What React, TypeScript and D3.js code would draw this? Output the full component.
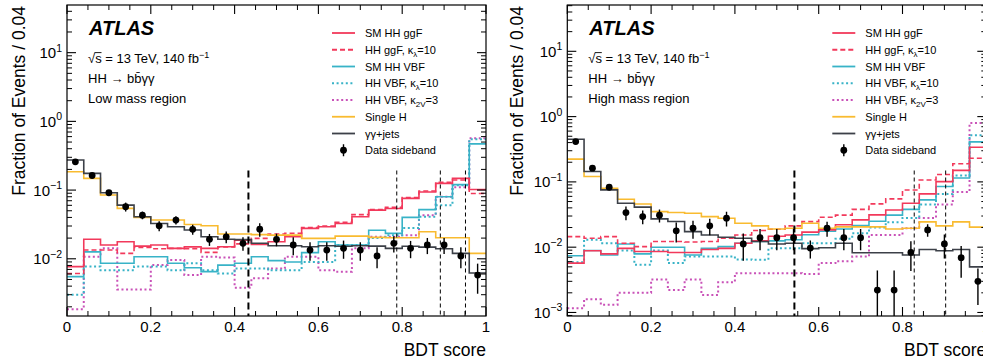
import React from 'react';
import * as d3 from 'd3';

// ---------- categories / tick labels ----------
const binEdges = d3.range(26).map((i) => i * 0.04);
const xTickValues = [0, 0.2, 0.4, 0.6, 0.8, 1];
const xTickLabels = ['0', '0.2', '0.4', '0.6', '0.8', '1'];
const lowYTickExps = [1, 0, -1, -2];
const highYTickExps = [1, 0, -1, -2, -3];

// ---------- Low mass region ----------
const lowSMggF = [0.0077, 0.0192, 0.0159, 0.0177, 0.0153, 0.0159, 0.0142, 0.0149, 0.0142, 0.0150, 0.0187, 0.0162, 0.0177, 0.0209, 0.0277, 0.0292, 0.0327, 0.0409, 0.0511, 0.054, 0.0757, 0.094, 0.125, 0.148, 0.102];
const lowKLggF = [0.0061, 0.0134, 0.0134, 0.0120, 0.0146, 0.0140, 0.0142, 0.0140, 0.0124, 0.0149, 0.0165, 0.0198, 0.0229, 0.0235, 0.0285, 0.030, 0.034, 0.044, 0.052, 0.056, 0.078, 0.097, 0.130, 0.140, 0.089];
const lowSMVBF = [0.0055, 0.0126, 0.0086, 0.0086, 0.0107, 0.0107, 0.0086, 0.0074, 0.0065, 0.0081, 0.0086, 0.0107, 0.0094, 0.0090, 0.0123, 0.0177, 0.0159, 0.0159, 0.026, 0.0234, 0.040, 0.052, 0.080, 0.120, 0.47];
const lowKLVBF = [0.0030, 0.0077, 0.0068, 0.0068, 0.0077, 0.0077, 0.0068, 0.0086, 0.0068, 0.0061, 0.0072, 0.0072, 0.0068, 0.0068, 0.0090, 0.0090, 0.0159, 0.0159, 0.020, 0.022, 0.028, 0.041, 0.060, 0.118, 0.55];
const lowK2V = [0.00185, 0.0107, 0.0142, 0.00358, 0.00358, 0.0081, 0.0096, 0.0058, 0.0107, 0.0104, 0.0038, 0.0052, 0.0072, 0.0107, 0.0107, 0.0068, 0.0065, 0.0142, 0.0209, 0.0209, 0.022, 0.043, 0.080, 0.110, 0.57];
const lowSingleH = [0.185, 0.148, 0.0846, 0.0542, 0.040, 0.0366, 0.0366, 0.0316, 0.0302, 0.0229, 0.0229, 0.0225, 0.0221, 0.0221, 0.0198, 0.0198, 0.0214, 0.0214, 0.0205, 0.0202, 0.0202, 0.0247, 0.0202, 0.0202, 0.0120];
const lowGamma = [0.274, 0.175, 0.0913, 0.0605, 0.0409, 0.0327, 0.0292, 0.0262, 0.0209, 0.0192, 0.0190, 0.0168, 0.0155, 0.0155, 0.0150, 0.0155, 0.0152, 0.0155, 0.0153, 0.0142, 0.0152, 0.0148, 0.0140, 0.0120, 0.0062];
const lowData = [0.258, 0.163, 0.0915, 0.0572, 0.0431, 0.0302, 0.0366, 0.0268, 0.0192, 0.0209, 0.0168, 0.027, 0.0192, 0.0159, 0.0134, 0.0134, 0.0142, 0.0134, 0.0110, 0.0168, 0.0142, 0.0159, 0.0159, 0.0110, 0.0058];
const lowDataErr = [0.01, 0.008, 0.006, 0.0085, 0.0055, 0.005, 0.005, 0.0045, 0.0038, 0.004, 0.0037, 0.006, 0.004, 0.0046, 0.004, 0.004, 0.0042, 0.004, 0.0037, 0.0045, 0.004, 0.0042, 0.0042, 0.0037, 0.0027];
const lowCuts = [0.787, 0.891, 0.951];
const lowMainCut = 0.433;

// ---------- High mass region ----------
const highSMggF = [0.0057, 0.0088, 0.0079, 0.0096, 0.0086, 0.0086, 0.0083, 0.0083, 0.0092, 0.0096, 0.0115, 0.0125, 0.0147, 0.0154, 0.0170, 0.0184, 0.0221, 0.0262, 0.0312, 0.0372, 0.0472, 0.0655, 0.101, 0.150, 0.340];
const highKLggF = [0.0145, 0.0137, 0.0145, 0.0115, 0.0102, 0.0122, 0.0122, 0.0120, 0.0122, 0.0137, 0.0154, 0.0180, 0.0188, 0.0212, 0.0246, 0.0288, 0.031, 0.038, 0.046, 0.055, 0.075, 0.107, 0.130, 0.190, 0.230];
const highSMVBF = [0.0074, 0.0089, 0.0076, 0.0112, 0.0079, 0.0100, 0.0100, 0.0076, 0.0096, 0.0102, 0.0115, 0.0122, 0.0125, 0.0130, 0.0155, 0.0175, 0.0190, 0.0215, 0.025, 0.031, 0.038, 0.053, 0.085, 0.115, 0.41];
const highKLVBF = [0.0059, 0.0130, 0.0115, 0.0089, 0.0054, 0.0089, 0.0057, 0.0072, 0.0072, 0.0072, 0.0065, 0.0064, 0.0096, 0.0096, 0.0115, 0.0115, 0.0135, 0.0163, 0.020, 0.024, 0.028, 0.045, 0.065, 0.125, 0.52];
const highK2V = [0.00116, 0.0016, 0.00131, 0.0020, 0.0020, 0.0032, 0.0022, 0.0032, 0.00186, 0.0029, 0.0040, 0.0040, 0.0040, 0.0040, 0.0039, 0.0057, 0.0061, 0.0072, 0.0154, 0.0154, 0.0195, 0.028, 0.045, 0.070, 0.80];
const highSingleH = [0.223, 0.121, 0.080, 0.0543, 0.0459, 0.0351, 0.0339, 0.0331, 0.0294, 0.0278, 0.0233, 0.0212, 0.0190, 0.0195, 0.0233, 0.0195, 0.0205, 0.0205, 0.0205, 0.0190, 0.0195, 0.0244, 0.0212, 0.0244, 0.0203];
const highGamma = [0.451, 0.144, 0.0754, 0.0471, 0.0410, 0.0271, 0.0247, 0.0173, 0.0154, 0.0142, 0.0137, 0.0122, 0.0112, 0.0115, 0.0095, 0.0098, 0.0115, 0.0082, 0.0082, 0.0082, 0.0076, 0.0092, 0.0088, 0.0092, 0.0050];
const highData = [0.414, 0.162, 0.083, 0.0339, 0.0294, 0.0309, 0.0178, 0.0195, 0.0212, 0.0278, 0.0112, 0.014, 0.014, 0.014, 0.0097, 0.0195, 0.014, 0.014, 0.0022, 0.0022, 0.0083, 0.0184, 0.0112, 0.0069, 0.0030];
const highDataErr = [0.03, 0.015, 0.009, 0.008, 0.007, 0.007, 0.006, 0.006, 0.006, 0.007, 0.005, 0.005, 0.005, 0.005, 0.003, 0.005, 0.005, 0.005, 0.0022, 0.0022, 0.004, 0.004, 0.0045, 0.0035, 0.0017];
const highCuts = [0.828, 0.903];
const highMainCut = 0.542;

// ---------- styles ----------
const FONT = '"Liberation Sans", Arial, Helvetica, sans-serif';
const C_GGF = '#f2395b';
const C_VBF = '#38b3c7';
const C_K2V = '#c952b8';
const C_SH = '#f9bb30';
const C_GG = '#3c4048';

type Hist = { values: number[]; color: string; dash?: string; width: number };

function stepPath(values: number[], x: any, y: any, ymin: number) {
  const pts: [number, number][] = values.map((v, i) => [binEdges[i], Math.max(v, ymin)]);
  pts.push([binEdges[25], Math.max(values[values.length - 1], ymin)]);
  return d3
    .line<[number, number]>()
    .x((d) => x(d[0]))
    .y((d) => y(d[1]))
    .curve(d3.curveStepAfter)(pts) as string;
}

const legendItems = [
  { kind: 'line', color: C_GGF, dash: undefined, label: <tspan>SM HH ggF</tspan> },
  {
    kind: 'line', color: C_GGF, dash: '5,3',
    label: (<><tspan>HH ggF, κ</tspan><tspan fontSize={8} dy={3}>λ</tspan><tspan dy={-3}>=10</tspan></>),
  },
  { kind: 'line', color: C_VBF, dash: undefined, label: <tspan>SM HH VBF</tspan> },
  {
    kind: 'dot', color: C_VBF, dash: '2,2.6',
    label: (<><tspan>HH VBF, κ</tspan><tspan fontSize={8} dy={3}>λ</tspan><tspan dy={-3}>=10</tspan></>),
  },
  {
    kind: 'dot', color: C_K2V, dash: '2,2.6',
    label: (<><tspan>HH VBF, κ</tspan><tspan fontSize={8} dy={3}>2V</tspan><tspan dy={-3}>=3</tspan></>),
  },
  { kind: 'line', color: C_SH, dash: undefined, label: <tspan>Single H</tspan> },
  { kind: 'line', color: C_GG, dash: undefined, label: <tspan>γγ+jets</tspan> },
  { kind: 'data', color: '#000', dash: undefined, label: <tspan>Data sideband</tspan> },
];

type PanelProps = {
  id: string;
  left: number;
  yDomain: [number, number];
  yTickExps: number[];
  region: string;
  hists: Hist[];
  data: number[];
  dataErr: number[];
  cuts: number[];
  mainCut: number;
  titleX: number;
};

function Panel(p: PanelProps) {
  const top = 5;
  const bottom = 316;
  const right = p.left + 419;
  const x = d3.scaleLinear().domain([0, 1]).range([p.left, right]);
  const y = d3.scaleLog().domain(p.yDomain).range([bottom, top]);
  const ymin = p.yDomain[0] * 0.5;

  const xMinor = d3.range(0, 1.0001, 0.05).filter((v) => Math.abs(v * 5 - Math.round(v * 5)) > 1e-6);
  const yMinor: number[] = [];
  for (let e = Math.floor(Math.log10(p.yDomain[0])); e <= Math.ceil(Math.log10(p.yDomain[1])); e++) {
    for (let m = 2; m <= 9; m++) {
      const v = m * Math.pow(10, e);
      if (v > p.yDomain[0] && v < p.yDomain[1]) yMinor.push(v);
    }
  }
  const cutTop = 170.5;
  const lx0 = p.left + 265;
  const lx1 = p.left + 288;
  const ltx = p.left + 298;
  const rowY = (i: number) => 33 + 16.75 * i;

  return (
    <g>
      <defs>
        <clipPath id={p.id}>
          <rect x={p.left} y={top} width={right - p.left} height={bottom - top} />
        </clipPath>
      </defs>
      <g clipPath={`url(#${p.id})`}>
        {p.hists.map((h, i) => (
          <path key={i} d={stepPath(h.values, x, y, ymin)} fill="none" stroke={h.color}
            strokeWidth={h.width} strokeDasharray={h.dash} />
        ))}
        <line x1={x(p.mainCut)} x2={x(p.mainCut)} y1={cutTop} y2={bottom} stroke="#000" strokeWidth={2} strokeDasharray="7,4" />
        {p.cuts.map((c, i) => (
          <line key={i} x1={x(c)} x2={x(c)} y1={cutTop} y2={bottom} stroke="#000" strokeWidth={1} strokeDasharray="4,3" />
        ))}
        {p.data.map((v, i) => {
          const cx = x((binEdges[i] + binEdges[i + 1]) / 2);
          const lo = Math.max(v - p.dataErr[i], ymin);
          const hi = v + p.dataErr[i];
          return (
            <g key={i}>
              <line x1={cx} x2={cx} y1={y(lo)} y2={y(hi)} stroke="#000" strokeWidth={1.4} />
              <circle cx={cx} cy={y(v)} r={3.4} fill="#000" />
            </g>
          );
        })}
      </g>
      {/* frame */}
      <rect x={p.left} y={top} width={right - p.left} height={bottom - top} fill="none" stroke="#000" strokeWidth={1.2} />
      {/* x ticks */}
      {xTickValues.map((v, i) => (
        <g key={'xt' + i}>
          <line x1={x(v)} x2={x(v)} y1={bottom} y2={bottom - 9} stroke="#000" strokeWidth={1.1} />
          <line x1={x(v)} x2={x(v)} y1={top} y2={top + 9} stroke="#000" strokeWidth={1.1} />
          <text x={x(v)} y={332} textAnchor="middle" fontSize={15}>{xTickLabels[i]}</text>
        </g>
      ))}
      {xMinor.map((v, i) => (
        <g key={'xm' + i}>
          <line x1={x(v)} x2={x(v)} y1={bottom} y2={bottom - 5} stroke="#000" strokeWidth={1} />
          <line x1={x(v)} x2={x(v)} y1={top} y2={top + 5} stroke="#000" strokeWidth={1} />
        </g>
      ))}
      {/* y ticks */}
      {p.yTickExps.map((e) => {
        const yy = y(Math.pow(10, e));
        return (
          <g key={'yt' + e}>
            <line x1={p.left} x2={p.left + 9} y1={yy} y2={yy} stroke="#000" strokeWidth={1.1} />
            <line x1={right} x2={right - 9} y1={yy} y2={yy} stroke="#000" strokeWidth={1.1} />
            <text x={p.left - 5} y={yy + 5.5} textAnchor="end" fontSize={15}>
              <tspan>10</tspan>
              <tspan fontSize={10.5} dy={-6.5}>{e < 0 ? '−' + String(-e) : String(e)}</tspan>
            </text>
          </g>
        );
      })}
      {yMinor.map((v, i) => (
        <g key={'ym' + i}>
          <line x1={p.left} x2={p.left + 5} y1={y(v)} y2={y(v)} stroke="#000" strokeWidth={1} />
          <line x1={right} x2={right - 5} y1={y(v)} y2={y(v)} stroke="#000" strokeWidth={1} />
        </g>
      ))}
      {/* axis titles */}
      <text transform={`translate(${p.titleX},6) rotate(-90)`} textAnchor="end" fontSize={17.5}>
        Fraction of Events / 0.04
      </text>
      <text x={right} y={356} textAnchor="end" fontSize={17.5}>BDT score</text>
      {/* ATLAS labels */}
      <text x={p.left + 22} y={35} fontSize={20} fontWeight="bold" fontStyle="italic">ATLAS</text>
      <text x={p.left + 21} y={63} fontSize={13}>
        <tspan>√s = 13 TeV, 140 fb</tspan>
        <tspan fontSize={9} dy={-5}>−1</tspan>
      </text>
      <line x1={p.left + 27.5} x2={p.left + 34.5} y1={52.6} y2={52.6} stroke="#000" strokeWidth={0.9} />
      <text x={p.left + 21} y={83} fontSize={13}>HH → bb̄γγ</text>
      <text x={p.left + 21} y={103} fontSize={13}>{p.region}</text>
      {/* legend */}
      {legendItems.map((it, i) => {
        const ry = rowY(i);
        return (
          <g key={'lg' + i}>
            {it.kind === 'data' ? (
              <g>
                <line x1={(lx0 + lx1) / 2} x2={(lx0 + lx1) / 2} y1={ry - 6} y2={ry + 6} stroke="#000" strokeWidth={1.4} />
                <circle cx={(lx0 + lx1) / 2} cy={ry} r={3.4} fill="#000" />
              </g>
            ) : (
              <line x1={lx0} x2={lx1} y1={ry} y2={ry} stroke={it.color}
                strokeWidth={it.kind === 'dot' ? 2 : 1.8} strokeDasharray={it.dash} />
            )}
            <text x={ltx} y={ry + 4.2} fontSize={11}>{it.label}</text>
          </g>
        );
      })}
    </g>
  );
}

export default function App() {
  const lowHists: Hist[] = [
    { values: lowK2V, color: C_K2V, dash: '2,2.6', width: 2 },
    { values: lowKLVBF, color: C_VBF, dash: '2,2.6', width: 2 },
    { values: lowSMVBF, color: C_VBF, width: 1.6 },
    { values: lowKLggF, color: C_GGF, dash: '5,3', width: 1.6 },
    { values: lowSMggF, color: C_GGF, width: 1.6 },
    { values: lowSingleH, color: C_SH, width: 1.6 },
    { values: lowGamma, color: C_GG, width: 1.6 },
  ];
  const highHists: Hist[] = [
    { values: highK2V, color: C_K2V, dash: '2,2.6', width: 2 },
    { values: highKLVBF, color: C_VBF, dash: '2,2.6', width: 2 },
    { values: highSMVBF, color: C_VBF, width: 1.6 },
    { values: highKLggF, color: C_GGF, dash: '5,3', width: 1.6 },
    { values: highSMggF, color: C_GGF, width: 1.6 },
    { values: highSingleH, color: C_SH, width: 1.6 },
    { values: highGamma, color: C_GG, width: 1.6 },
  ];
  return (
    <svg width={983} height={362} style={{ position: 'absolute', left: 0, top: 0, display: 'block' }} fontFamily={FONT}>
      <rect width={983} height={362} fill="#fff" />
      <Panel id="clipLow" left={67} yDomain={[1.47e-3, 49.4]} yTickExps={lowYTickExps} region="Low mass region"
        hists={lowHists} data={lowData} dataErr={lowDataErr} cuts={lowCuts} mainCut={lowMainCut} titleX={25} />
      <Panel id="clipHigh" left={567.3} yDomain={[8.83e-4, 51.2]} yTickExps={highYTickExps} region="High mass region"
        hists={highHists} data={highData} dataErr={highDataErr} cuts={highCuts} mainCut={highMainCut} titleX={523} />
    </svg>
  );
}
